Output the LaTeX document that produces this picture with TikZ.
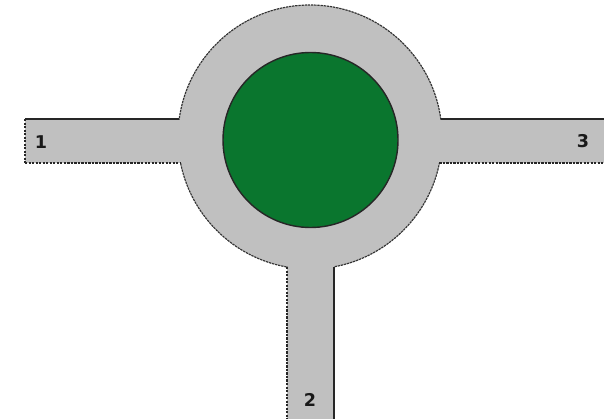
\documentclass[tikz,border=0pt]{standalone}
\usepackage{fontspec}
\setsansfont{DejaVu Sans}
\usepackage{tikz}
\usetikzlibrary{calc}
\definecolor{roadgray}{RGB}{192,192,192}
\definecolor{islandgreen}{RGB}{10,118,46}
\tikzset{
    road/.style={fill=roadgray, draw=none},
    solidedge/.style={draw=black!85, line width=1.1pt},
    dashedge/.style={draw=black!85, line width=1.1pt, dash pattern=on 2pt off 1pt},
    ring/.style={draw=black!80, fill=roadgray, line width=1pt, dash pattern=on 2pt off 0.7pt},
    island/.style={draw=black!85, fill=islandgreen, line width=1.2pt},
    roadlabel/.style={font=\sffamily\bfseries\fontsize{15}{15}\selectfont, text=black!90},
}

\begin{document}
\begin{tikzpicture}[x=0.3mm, y=-0.3mm]
        \useasboundingbox (0,0) rectangle (604,419);
        % Centre
        \coordinate (c) at (310,137);
        \coordinate (ic) at (310.5,140);

        % Roads
        \fill[road] (25,119) rectangle (200,163);
        \fill[road] (420,119) rectangle (604,163);
        \fill[road] (287,250) rectangle (334,419);

        % Ring
        \draw[ring] (c) circle[radius=132];
        \fill[road] (170,120) rectangle (200,162.5);
        \fill[road] (420,120) rectangle (450,162.5);
        \fill[road] (287.5,250) rectangle (333.5,280);

        % Road edges
        \draw[solidedge] (25,119) -- (179.2,119);
        \draw[dashedge] (25,163) -- (180.6,163);
        \draw[dashedge] (25,119) -- (25,163);
        \draw[solidedge] (440.8,119) -- (604,119);
        \draw[dashedge] (439.4,163) -- (604,163);
        \draw[dashedge] (287,267) -- (287,419);
        \draw[solidedge] (334,266.8) -- (334,419);

        % Island
        \draw[island] (ic) circle[radius=87.5];

        % Labels
        \node[roadlabel] (one) at (41,142) {1};
        \node[roadlabel] (three) at (583,141) {3};
        \node[roadlabel] (two) at (310,400) {2};
    \end{tikzpicture}
\end{document}
